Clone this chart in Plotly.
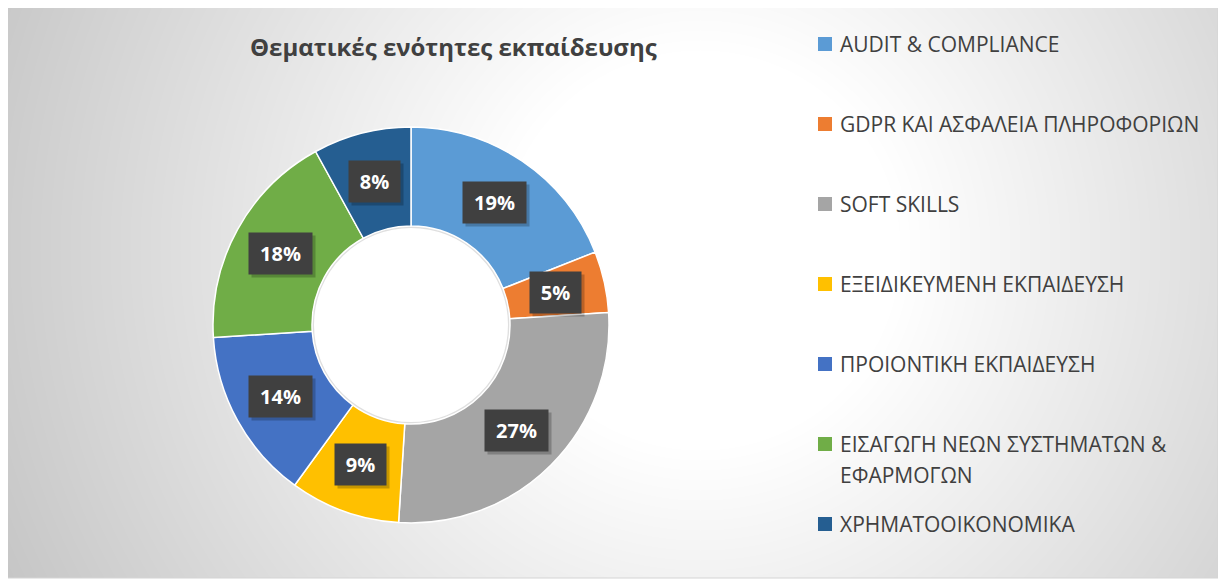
import base64, struct, zlib, math
import numpy as np
import plotly.graph_objects as go

# ---------------- data ----------------
categories = [
    "AUDIT & COMPLIANCE",
    "GDPR ΚΑΙ ΑΣΦΑΛΕΙΑ ΠΛΗΡΟΦΟΡΙΩΝ",
    "SOFT SKILLS",
    "ΕΞΕΙΔΙΚΕΥΜΕΝΗ ΕΚΠΑΙΔΕΥΣΗ",
    "ΠΡΟΙΟΝΤΙΚΗ ΕΚΠΑΙΔΕΥΣΗ",
    "ΕΙΣΑΓΩΓΗ ΝΕΩΝ ΣΥΣΤΗΜΑΤΩΝ & ΕΦΑΡΜΟΓΩΝ",
    "ΧΡΗΜΑΤΟΟΙΚΟΝΟΜΙΚΑ",
]
values = [19, 5, 27, 9, 14, 18, 8]
colors = ["#5B9BD5", "#ED7D31", "#A5A5A5", "#FFC000", "#4472C4", "#70AD47", "#255E91"]
legend_lines = [
    ["AUDIT & COMPLIANCE"],
    ["GDPR ΚΑΙ ΑΣΦΑΛΕΙΑ ΠΛΗΡΟΦΟΡΙΩΝ"],
    ["SOFT SKILLS"],
    ["ΕΞΕΙΔΙΚΕΥΜΕΝΗ ΕΚΠΑΙΔΕΥΣΗ"],
    ["ΠΡΟΙΟΝΤΙΚΗ ΕΚΠΑΙΔΕΥΣΗ"],
    ["ΕΙΣΑΓΩΓΗ ΝΕΩΝ ΣΥΣΤΗΜΑΤΩΝ &", "ΕΦΑΡΜΟΓΩΝ"],
    ["ΧΡΗΜΑΤΟΟΙΚΟΝΟΜΙΚΑ"],
]
title = "Θεματικές ενότητες εκπαίδευσης"

# ---------------- layout geometry (window pixels) ----------------
FW, FH = 1226, 581
OFF = 8  # page body margin offsets the figure
BOX = (6, 7, 1218, 578)  # chart area (px)
pie_px = (213, 127, 609, 523)  # x0, y0(top), x1, y1(bottom)
HOLE = 0.5

def px_x(x):
    return (x - OFF) / FW

def px_y(y):
    return 1 - (y - OFF) / FH

# ---------------- background gradient (png) ----------------
def make_png(arr):
    h, w = arr.shape
    raw = b"".join(b"\x00" + arr[i].tobytes() for i in range(h))
    def chunk(t, d):
        c = struct.pack(">I", len(d)) + t + d
        return c + struct.pack(">I", zlib.crc32(t + d) & 0xffffffff)
    png = b"\x89PNG\r\n\x1a\n"
    png += chunk(b"IHDR", struct.pack(">IIBBBBB", w, h, 8, 0, 0, 0, 0))
    png += chunk(b"IDAT", zlib.compress(raw, 9))
    png += chunk(b"IEND", b"")
    return "data:image/png;base64," + base64.b64encode(png).decode()

bw, bh = BOX[2] - BOX[0], BOX[3] - BOX[1]
yy, xx = np.mgrid[0:bh, 0:bw]
d = np.hypot(xx + BOX[0] - 700, (yy + BOX[1] - 250) * 1.0)
g = np.clip(255 - 0.1 * np.maximum(d - 200, 0), 188, 255).astype(np.uint8)
bg_src = make_png(g)

fig = go.Figure()
fig.add_trace(go.Pie(
    labels=categories,
    values=values,
    sort=False,
    direction="clockwise",
    rotation=0,
    hole=HOLE,
    marker=dict(colors=colors, line=dict(color="white", width=1.5)),
    textinfo="none",
    showlegend=False,
    domain=dict(x=[px_x(pie_px[0]), px_x(pie_px[2])],
                y=[px_y(pie_px[3]), px_y(pie_px[1])]),
))

annotations = []
shapes = []

# data labels in dark boxes
cx = (pie_px[0] + pie_px[2]) / 2
cy = (pie_px[1] + pie_px[3]) / 2
R = (pie_px[2] - pie_px[0]) / 2
r_lab = (R + R * HOLE) / 2
total = sum(values)
cum = 0
for v in values:
    mid = (cum + v / 2) / total * 2 * math.pi
    cum += v
    lx = cx + r_lab * math.sin(mid)
    ly = cy - r_lab * math.cos(mid)
    txt = f"{round(v / total * 100)}%"
    w = 12 * sum(1 for ch in txt if ch.isdigit()) + 17 + 22
    for shadow in (True, False):
        annotations.append(dict(
            x=px_x(lx), y=px_y(ly), xref="paper", yref="paper",
            xanchor="center", yanchor="middle",
            text="&nbsp;" if shadow else f"<b>{txt}</b>", showarrow=False,
            font=dict(family="Open Sans", size=20, color="white"),
            bgcolor="rgba(0,0,0,0.22)" if shadow else "#404040",
            width=w, height=41, borderpad=0,
            xshift=3 if shadow else 0, yshift=-3 if shadow else 0,
        ))

# legend (manual, to match large spacing)
leg_x_sq = 818
leg_x_txt = 838
leg_y0 = 44
leg_step = 80
line_h = 31
y = leg_y0
for i, lines in enumerate(legend_lines):
    shapes.append(dict(type="rect", xref="paper", yref="paper",
                       x0=px_x(leg_x_sq), x1=px_x(leg_x_sq + 14),
                       y0=px_y(y + 7), y1=px_y(y - 7),
                       fillcolor=colors[i], line=dict(width=0)))
    for j, ln in enumerate(lines):
        annotations.append(dict(
            x=px_x(leg_x_txt), y=px_y(y + j * line_h), xref="paper", yref="paper",
            xanchor="left", yanchor="middle", text=ln, showarrow=False,
            font=dict(family="Open Sans", size=21, color="#404040")))
    y += leg_step

# title
annotations.append(dict(
    x=px_x(453), y=px_y(47), xref="paper", yref="paper",
    xanchor="center", yanchor="middle", text=f"<b>{title}</b>", showarrow=False,
    font=dict(family="Open Sans", size=24, color="#404040")))

# hole fill
hr = R * HOLE
shapes.append(dict(type="circle", xref="paper", yref="paper", layer="below",
                   x0=px_x(cx - hr), x1=px_x(cx + hr),
                   y0=px_y(cy + hr), y1=px_y(cy - hr),
                   fillcolor="white", line=dict(color="rgba(215,215,215,0.8)", width=4)))
# right shadow strip and border
shapes.append(dict(type="rect", xref="paper", yref="paper", layer="below",
                   x0=px_x(BOX[2]), x1=px_x(FW + OFF), y0=px_y(BOX[3]), y1=px_y(BOX[1]),
                   fillcolor="#c9c9c9", line=dict(width=0)))
shapes.append(dict(type="rect", xref="paper", yref="paper", layer="below",
                   x0=px_x(BOX[0]), x1=px_x(BOX[2]), y0=px_y(BOX[3]), y1=px_y(BOX[1]),
                   fillcolor="rgba(0,0,0,0)", line=dict(color="#d4d4d4", width=1)))

fig.update_layout(
    width=FW, height=FH,
    margin=dict(l=0, r=0, t=0, b=0),
    paper_bgcolor="white",
    plot_bgcolor="rgba(0,0,0,0)",
    showlegend=False,
    annotations=annotations,
    shapes=shapes,
    images=[dict(source=bg_src, xref="paper", yref="paper",
                 x=px_x(BOX[0]), y=px_y(BOX[1]), sizex=bw / FW, sizey=bh / FH,
                 xanchor="left", yanchor="top", sizing="stretch", layer="below")],
)

fig.write_html("out.html")
